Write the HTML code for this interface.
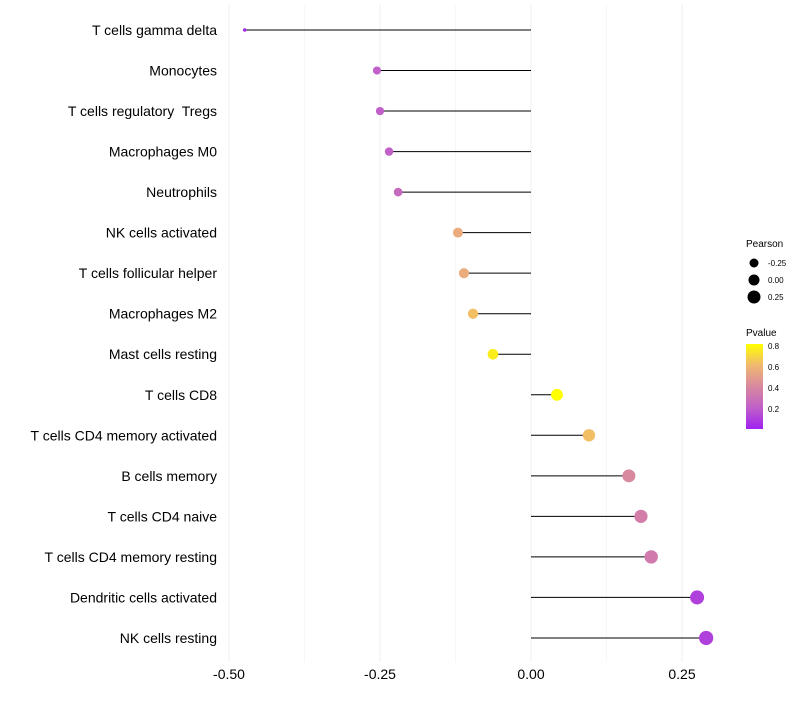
<!DOCTYPE html>
<html><head><meta charset="utf-8"><style>
body{margin:0;background:#fff;font-family:"Liberation Sans",sans-serif}
text{white-space:pre}
</style></head><body>
<svg id="chart" width="800" height="700" xmlns="http://www.w3.org/2000/svg">
<defs><linearGradient id="pg" x1="0" y1="1" x2="0" y2="0">
<stop offset="0" stop-color="#a020f0"/><stop offset="0.25" stop-color="#c060c8"/><stop offset="0.5" stop-color="#d8889f"/><stop offset="0.75" stop-color="#f0b870"/><stop offset="1" stop-color="#ffff00"/></linearGradient></defs>
<g id="grid"></g><g id="marks"></g><g id="labels"></g>
<g font-size="10" fill="#000">
<text x="746" y="247">Pearson</text>
<circle cx="754" cy="263" r="4.5"/><text x="768" y="266" font-size="8">-0.25</text>
<circle cx="754" cy="280" r="5.5"/><text x="768" y="283" font-size="8">0.00</text>
<circle cx="754" cy="297" r="6.5"/><text x="768" y="300" font-size="8">0.25</text>
<text x="746" y="336">Pvalue</text>
<rect x="746" y="344" width="17" height="85" fill="url(#pg)"/>
<text x="768" y="349" font-size="8">0.8</text><text x="768" y="370" font-size="8">0.6</text>
<text x="768" y="391" font-size="8">0.4</text><text x="768" y="412" font-size="8">0.2</text>
</g>
</svg>
<script>
const categories=["T cells gamma delta","Monocytes","T cells regulatory  Tregs","Macrophages M0","Neutrophils","NK cells activated","T cells follicular helper","Macrophages M2","Mast cells resting","T cells CD8","T cells CD4 memory activated","B cells memory","T cells CD4 naive","T cells CD4 memory resting","Dendritic cells activated","NK cells resting"];
const pearson=[-0.474,-0.255,-0.25,-0.235,-0.22,-0.121,-0.111,-0.096,-0.063,0.043,0.096,0.162,0.182,0.199,0.275,0.29];
const pvalue=[0.02,0.2,0.2,0.2,0.25,0.55,0.55,0.62,0.75,0.8,0.62,0.4,0.35,0.33,0.1,0.1];
const ticks=[-0.5,-0.25,0,0.25];
const tickLabels=["-0.50","-0.25","0.00","0.25"];
const NS="http://www.w3.org/2000/svg";
const x=v=>531+v*604;
const y=i=>30+i*40.53;
const r=v=>Math.sqrt(3+(v+0.474)*62);
const stops=[[0,[160,32,240]],[0.2,[192,96,200]],[0.4,[216,136,159]],[0.6,[240,184,112]],[0.8,[255,255,0]]];
function col(p){p=Math.max(0,Math.min(0.8,p));for(let k=1;k<stops.length;k++){if(p<=stops[k][0]){const a=stops[k-1],b=stops[k],t=(p-a[0])/(b[0]-a[0]);return 'rgb('+a[1].map((c,j)=>Math.round(c+(b[1][j]-c)*t)).join(',')+')';}}return 'rgb(255,255,0)';}
function mk(t,at,par){const e=document.createElementNS(NS,t);for(const k in at)e.setAttribute(k,at[k]);document.getElementById(par).appendChild(e);return e;}
ticks.forEach((t,i)=>{
 const g=mk('line',{x1:x(t),x2:x(t),y1:5,y2:662,stroke:'#efefef','stroke-width':1},'grid');
 
 
 const tx=mk('text',{x:x(t),y:679,'text-anchor':'middle','font-size':14,fill:'#000'},'labels');
 tx.textContent=tickLabels[i];
 
 
});
[-0.375,-0.125,0.125].forEach(t=>{const g=mk('line',{x1:x(t),x2:x(t),y1:5,y2:662,stroke:'#f7f7f7','stroke-width':1},'grid');
 
 });
categories.forEach((c,i)=>{
 const l=mk('line',{x1:x(0),x2:x(pearson[i]),y1:y(i),y2:y(i),stroke:'#000','stroke-width':1},'marks');
 
 
 const p=mk('circle',{cx:x(pearson[i]),cy:y(i),r:r(pearson[i]),fill:col(pvalue[i])},'marks');
 
 
 const t=mk('text',{x:217,y:y(i)+5,'text-anchor':'end','font-size':14,fill:'#000'},'labels');
 t.textContent=c;
 
 
});
</script>
</body></html>
